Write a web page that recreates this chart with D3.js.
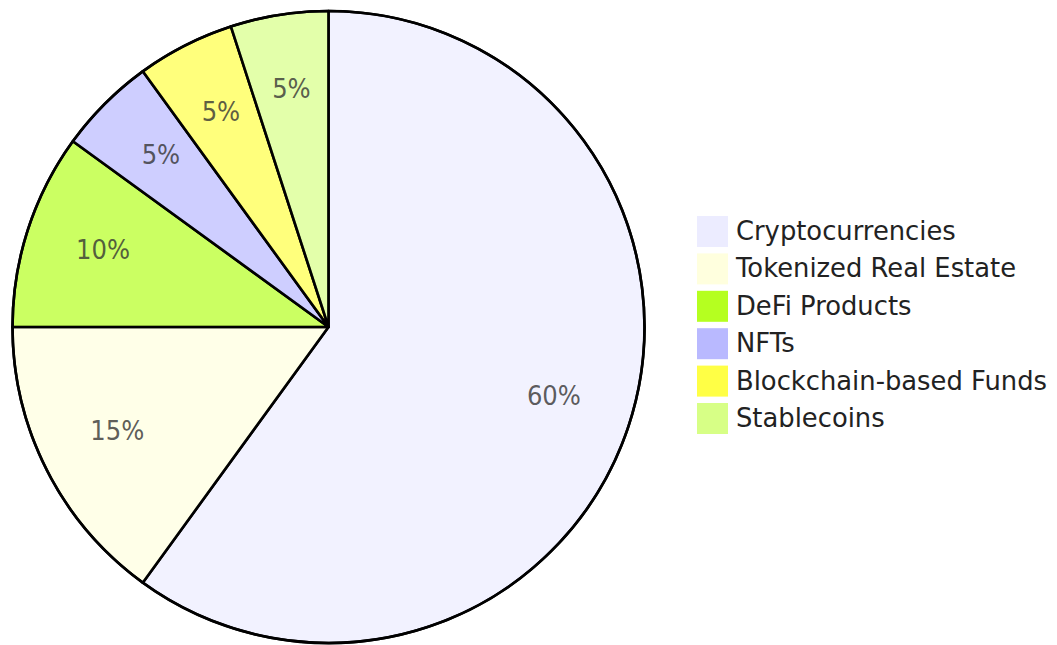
<!DOCTYPE html>
<html>
<head>
<meta charset="utf-8">
<script src="https://cdn.jsdelivr.net/npm/d3@7"></script>
<style>
  html, body { margin: 0; padding: 0; background: #fff; }
  svg { display: block; }
</style>
</head>
<body>
<div id="chart"></div>
<script>
const categories = ['Cryptocurrencies', 'Tokenized Real Estate', 'DeFi Products', 'NFTs', 'Blockchain-based Funds', 'Stablecoins']
const values = [60, 15, 10, 5, 5, 5]
const colors = ['#ECECFF', '#ffffde', 'hsl(80, 100%, 56.27%)', 'hsl(240, 100%, 86.27%)', 'hsl(60, 100%, 63.53%)', 'hsl(80, 100%, 76.27%)']

const width = 1057
const height = 645
const cx = 328.5
const cy = 327
const radius = 316

const data = categories.map((c, i) => ({ name: c, value: values[i] }))
const total = d3.sum(values)

const svg = d3.select('#chart')
  .append('svg')
  .attr('width', width)
  .attr('height', height)

const g = svg.append('g').attr('transform', `translate(${cx},${cy})`)

// keep input order, start at 12 o'clock going clockwise
const pie = d3.pie().value(d => d.value).sort(null)
const arc = d3.arc().innerRadius(0).outerRadius(radius)
const labelArc = d3.arc().innerRadius(radius * 0.75).outerRadius(radius * 0.75)

const color = d3.scaleOrdinal().domain(categories).range(colors)

g.selectAll('path.slice')
  .data(pie(data))
  .join('path')
  .attr('class', 'slice')
  .attr('d', arc)
  .attr('fill', d => color(d.data.name))
  .attr('fill-opacity', 0.7)
  .attr('stroke', '#000')
  .attr('stroke-width', 2.6)
  .attr('stroke-linejoin', 'round')

g.append('circle')
  .attr('r', radius)
  .attr('fill', 'none')
  .attr('stroke', '#000')
  .attr('stroke-width', 2.6)

g.selectAll('text.pct')
  .data(pie(data))
  .join('text')
  .attr('class', 'pct')
  .attr('transform', d => `translate(${labelArc.centroid(d)})`)
  .attr('text-anchor', 'middle')
  .attr('dy', 5)
  .attr('font-family', '"Liberation Sans Narrow", "DejaVu Sans Condensed", sans-serif')
  .attr('font-size', 27)
  .attr('fill', '#333')
  .attr('fill-opacity', 0.8)
  .text(d => Math.round(d.data.value / total * 100) + '%')

// legend
const rectSize = 31
const spacing = 37.4
const legend = svg.append('g').attr('transform', 'translate(697,216)')

const items = legend.selectAll('g')
  .data(categories)
  .join('g')
  .attr('transform', (d, i) => `translate(0,${i * spacing})`)

items.append('rect')
  .attr('width', rectSize)
  .attr('height', rectSize)
  .attr('fill', d => color(d))

items.append('text')
  .attr('x', 39)
  .attr('y', 24)
  .attr('font-family', 'DejaVu Sans, sans-serif')
  .attr('font-size', 25.8)
  .attr('fill', '#222')
  .text(d => d)
</script>
</body>
</html>
